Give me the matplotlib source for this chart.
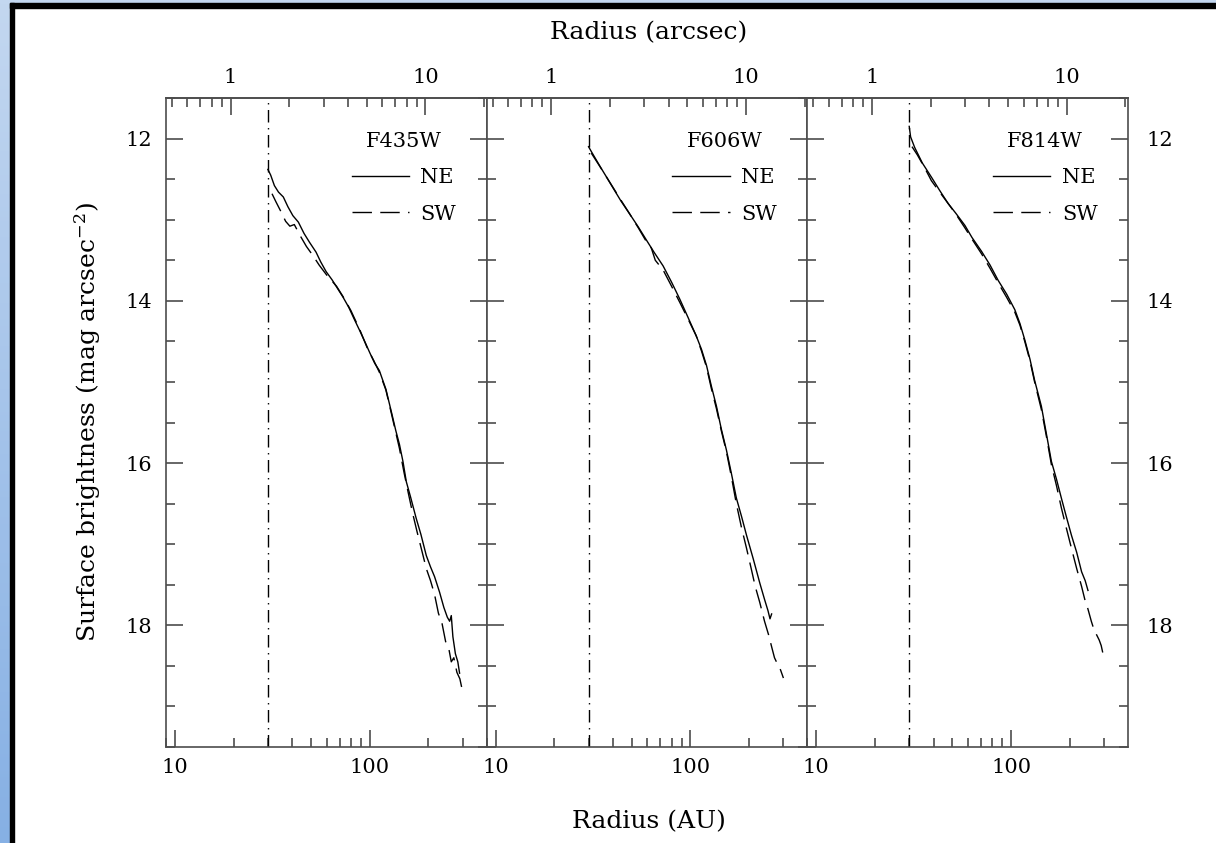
import numpy as np
import matplotlib
matplotlib.use('Agg')
import matplotlib.pyplot as plt
from matplotlib.ticker import MultipleLocator, FormatStrFormatter, NullFormatter, FixedLocator
from matplotlib.patches import Rectangle

plt.rcParams['font.family'] = ['DejaVu Serif']
plt.rcParams['mathtext.fontset'] = 'dejavuserif'

# distance of the star (pc) -> 1 arcsec = 19.3 AU
dist_pc = 19.3
inner_edge_au = 30.0

filters = ['F435W', 'F606W', 'F814W']

# ---- F435W ----
f435_ne_au = [30.0, 31.0, 32.4, 34, 36, 38, 40.3, 43, 46, 49.1, 53, 56, 59.7, 64, 68, 72.7, 78, 83, 88.5, 95,
              100, 106, 112, 121, 130, 136, 142, 148, 154, 162, 173, 183, 195, 205, 215, 228, 240, 250, 257,
              262, 267, 275, 283, 289]
f435_ne_mag = [12.38, 12.45, 12.58, 12.66, 12.72, 12.84, 12.95, 13.03, 13.17, 13.28, 13.40, 13.52, 13.64, 13.74,
               13.84, 13.95, 14.08, 14.22, 14.36, 14.52, 14.64, 14.77, 14.86, 15.09, 15.40, 15.60, 15.77, 15.98,
               16.23, 16.42, 16.68, 16.88, 17.14, 17.28, 17.40, 17.59, 17.78, 17.90, 17.95, 17.88, 18.14, 18.35,
               18.45, 18.59]
f435_sw_au = [31.5, 33, 35, 37, 38.9, 41, 44, 47.3, 51, 55, 60, 67.5, 73, 80, 89, 97, 105, 112, 121, 130, 142,
              150, 158, 166, 175, 185, 195, 205, 215, 225, 235, 245, 255, 262, 270, 280, 290, 296]
f435_sw_mag = [12.68, 12.78, 12.90, 13.02, 13.08, 13.06, 13.20, 13.33, 13.44, 13.56, 13.68, 13.82, 13.95, 14.12,
               14.36, 14.58, 14.74, 14.88, 15.10, 15.42, 15.82, 16.12, 16.38, 16.62, 16.85, 17.08, 17.30, 17.45,
               17.62, 17.85, 17.98, 18.20, 18.30, 18.45, 18.40, 18.58, 18.66, 18.76]

# ---- F606W ----
f606_ne_au = [30, 31, 34.3, 37, 40.1, 44, 48.8, 54, 59.4, 65, 72.4, 80, 88.2, 97, 107, 114, 121, 128, 136, 144,
              153, 162, 172, 183, 194, 210, 227, 240, 250, 256, 261]
f606_ne_mag = [12.10, 12.16, 12.34, 12.47, 12.61, 12.77, 12.93, 13.09, 13.25, 13.40, 13.57, 13.77, 13.98, 14.20,
               14.43, 14.60, 14.80, 15.05, 15.30, 15.58, 15.84, 16.12, 16.43, 16.66, 16.89, 17.18, 17.48, 17.68,
               17.82, 17.92, 17.86]
f606_sw_au = [31, 34, 37, 40, 44, 48.8, 54, 59.4, 63, 66, 72.4, 80, 88.2, 97, 107, 114, 121, 128, 136, 144, 153,
              162, 172, 183, 194, 205, 215, 227, 240, 252, 262, 270, 280, 290, 300]
f606_sw_mag = [12.18, 12.33, 12.47, 12.60, 12.76, 12.93, 13.10, 13.27, 13.35, 13.50, 13.62, 13.82, 14.02, 14.22,
               14.43, 14.62, 14.82, 15.08, 15.33, 15.60, 15.86, 16.16, 16.50, 16.80, 17.05, 17.30, 17.52, 17.72,
               17.95, 18.12, 18.28, 18.40, 18.48, 18.55, 18.65]

# ---- F814W ----
f814_ne_au = [30, 30.5, 32, 35, 39.1, 43, 47.5, 52, 57.9, 63, 70.5, 78, 85.9, 95, 104.5, 111, 117.5, 125, 132,
              143, 152, 161, 171, 181, 192, 204, 217, 230, 240, 248]
f814_ne_mag = [11.85, 11.98, 12.11, 12.30, 12.48, 12.64, 12.80, 12.92, 13.07, 13.22, 13.39, 13.56, 13.75, 13.92,
               14.11, 14.28, 14.48, 14.72, 14.98, 15.30, 15.65, 15.98, 16.20, 16.43, 16.66, 16.89, 17.10, 17.34,
               17.45, 17.57]
f814_sw_au = [31, 33, 36, 39, 43, 47.5, 52, 57.9, 63, 70.5, 78, 85.9, 95, 104.5, 111, 117.5, 125, 132, 143, 152,
              161, 171, 181, 192, 204, 217, 230, 240, 248, 258, 266, 275, 283, 290, 298]
f814_sw_mag = [12.10, 12.20, 12.36, 12.52, 12.66, 12.80, 12.93, 13.10, 13.24, 13.42, 13.60, 13.78, 13.96, 14.14,
               14.30, 14.50, 14.74, 15.00, 15.34, 15.68, 16.02, 16.28, 16.55, 16.80, 17.05, 17.30, 17.52, 17.70,
               17.80, 17.95, 18.05, 18.12, 18.18, 18.25, 18.38]

ne_data = [(f435_ne_au, f435_ne_mag), (f606_ne_au, f606_ne_mag), (f814_ne_au, f814_ne_mag)]
sw_data = [(f435_sw_au, f435_sw_mag), (f606_sw_au, f606_sw_mag), (f814_sw_au, f814_sw_mag)]

au_major = [10, 100]
au_minor = [9, 20, 30, 40, 50, 60, 70, 80, 90, 200, 300]
as_major = [1, 10]
as_minor = [0.5, 0.6, 0.7, 0.8, 0.9, 2, 3, 4, 5, 6, 7, 8, 9, 20]

W, H = 1216, 843
fig = plt.figure(figsize=(W / 100, H / 100), dpi=100)

# decorative frame: blue strip on the left/top, black line inside
bg = fig.add_axes([0, 0, 10 / W, 1])
grad = np.linspace(0, 1, 256).reshape(-1, 1)
bg.imshow(grad, aspect='auto', cmap=matplotlib.colors.LinearSegmentedColormap.from_list(
    'b', ['#c3d7f0', '#86b0e4']), extent=[0, 1, 0, 1])
bg.axis('off')
fig.patches.append(Rectangle((0, 1 - 3 / H), 1, 3 / H, transform=fig.transFigure,
                             color='#c3d7f0', zorder=0))
fig.patches.append(Rectangle((10 / W, 0), 4 / W, 1 - 3 / H, transform=fig.transFigure,
                             color='black', zorder=1))
fig.patches.append(Rectangle((10 / W, 1 - 8 / H), 1 - 10 / W, 5 / H, transform=fig.transFigure,
                             color='black', zorder=1))

left = 166 / W
pw = (1128 - 166) / 3 / W
bottom = 1 - 747 / H
ph = (747 - 98) / H

spine_col = '0.3'
fs = 15
fs_lab = 18

for i, name in enumerate(filters):
    ax = fig.add_axes([left + i * pw, bottom, pw, ph])
    ax.set_xscale('log')
    ax.set_xlim(9.0, 398)
    ax.set_ylim(19.5, 11.5)

    ne_au, ne_mag = ne_data[i]
    sw_au, sw_mag = sw_data[i]
    ax.plot(ne_au, ne_mag, color='black', lw=1.0, label='NE')
    ax.plot(sw_au, sw_mag, color='black', lw=1.0, linestyle=(0, (14, 6)), label='SW')
    ax.axvline(inner_edge_au, color='black', lw=1.0, linestyle=(0, (9, 4, 1, 4)))

    ax.yaxis.set_major_locator(MultipleLocator(2))
    ax.yaxis.set_minor_locator(MultipleLocator(0.5))
    ax.xaxis.set_major_locator(FixedLocator(au_major))
    ax.xaxis.set_minor_locator(FixedLocator(au_minor))
    ax.xaxis.set_major_formatter(FormatStrFormatter('%g'))
    ax.xaxis.set_minor_formatter(NullFormatter())

    ax.tick_params(which='both', direction='in', top=False, bottom=True, left=True, right=True,
                   colors=spine_col, labelcolor='black', labelsize=fs, width=1.2)
    ax.tick_params(which='major', length=12)
    ax.tick_params(which='minor', length=6.5)
    ax.tick_params(axis='x', pad=8)
    ax.tick_params(axis='y', pad=10, labelleft=(i == 0), labelright=(i == 2))
    if i == 2:
        ax.tick_params(axis='y', pad=13)
    for s in ax.spines.values():
        s.set_color(spine_col)
        s.set_linewidth(1.2)

    sec = ax.secondary_xaxis('top', functions=(lambda x: x / dist_pc, lambda x: x * dist_pc))
    sec.xaxis.set_major_locator(FixedLocator(as_major))
    sec.xaxis.set_minor_locator(FixedLocator(as_minor))
    sec.xaxis.set_major_formatter(FormatStrFormatter('%g'))
    sec.xaxis.set_minor_formatter(NullFormatter())
    sec.tick_params(which='both', direction='in', colors=spine_col, labelcolor='black',
                    labelsize=fs, width=1.2, pad=8)
    sec.tick_params(which='major', length=12)
    sec.tick_params(which='minor', length=6.5)
    sec.spines['top'].set_color(spine_col)
    sec.spines['top'].set_linewidth(1.2)

    ax.legend(loc='upper right', bbox_to_anchor=(0.905, 0.947), frameon=False, fontsize=fs,
              title=name, title_fontsize=fs, handlelength=2.75, handletextpad=0.55,
              labelspacing=0.82, borderpad=0, borderaxespad=0)

fig.text(649 / W, 1 - 33 / H, 'Radius (arcsec)', ha='center', va='center', fontsize=fs_lab)
fig.text(649 / W, 1 - 822 / H, 'Radius (AU)', ha='center', va='center', fontsize=fs_lab)
fig.text(88 / W, 1 - 422 / H, 'Surface brightness (mag arcsec$^{-2}$)', ha='center', va='center',
         rotation=90, fontsize=fs_lab)

fig.savefig('out.png', dpi=100)
